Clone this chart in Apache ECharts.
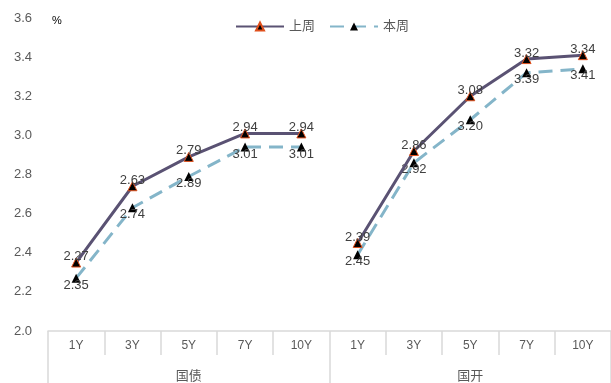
<!DOCTYPE html>
<html>
<head>
<meta charset="utf-8">
<script src="https://cdn.jsdelivr.net/npm/echarts@6/dist/echarts.min.js"></script>
<style>
  html, body { margin: 0; padding: 0; background: #fff; }
  #chart { width: 611px; height: 383px; }
</style>
</head>
<body>
<div id="chart"></div>
<script>
// 期限（两组：国债 / 国开）
const terms = ["1Y", "3Y", "5Y", "7Y", "10Y"];
const groups = ["国债", "国开"];
const yTicks = [2.0, 2.2, 2.4, 2.6, 2.8, 3.0, 3.2, 3.4, 3.6];

// 折线位置
const lastGuozhai = [2.35, 2.74, 2.89, 3.01, 3.01];
const lastGuokai = [2.45, 2.92, 3.2, 3.39, 3.41];
const thisGuozhai = [2.27, 2.63, 2.79, 2.94, 2.94];
const thisGuokai = [2.39, 2.86, 3.08, 3.32, 3.34];

// 数据标签文字（原图标签与点位互换）
const lastLabelsGuozhai = ["2.27", "2.63", "2.79", "2.94", "2.94"];
const lastLabelsGuokai = ["2.39", "2.86", "3.08", "3.32", "3.34"];
const thisLabelsGuozhai = ["2.35", "2.74", "2.89", "3.01", "3.01"];
const thisLabelsGuokai = ["2.45", "2.92", "3.20", "3.39", "3.41"];

const FONT = "Liberation Sans, Arial, Noto Sans CJK SC, sans-serif";
const categories = groups.flatMap(() => terms);
const blanks = terms.map(() => "-");

function makeSeries(name, values, labels, first, style) {
  const data = first ? values.concat(blanks) : blanks.concat(values);
  const texts = first ? labels.concat(blanks) : blanks.concat(labels);
  return {
    name: name,
    type: "line",
    data: data,
    symbol: "triangle",
    symbolSize: 9,
    z: style.z,
    itemStyle: style.itemStyle,
    lineStyle: style.lineStyle,
    label: {
      show: true,
      position: "inside",
      offset: style.labelOffset,
      color: "#404040",
      fontSize: 13,
      fontFamily: FONT,
      formatter: (p) => texts[p.dataIndex],
    },
    emphasis: { disabled: true },
    animation: false,
  };
}

const lastStyle = {
  z: 3,
  itemStyle: { color: "#000", borderColor: "#e0501c", borderWidth: 1 },
  lineStyle: { color: "#5a5273", width: 3, type: "solid" },
  labelOffset: [0, -6],
};
const thisStyle = {
  z: 2,
  itemStyle: { color: "#000", borderColor: "#000", borderWidth: 0 },
  lineStyle: { color: "#84b5c9", width: 3, type: [14, 8] },
  labelOffset: [0, 7],
};

const myChart = echarts.init(document.getElementById("chart"));
const option = {
  backgroundColor: "#fff",
  legend: {
    data: ["上周", "本周"],
    top: 15,
    left: 230,
    itemWidth: 48,
    itemHeight: 10,
    itemGap: 14,
    textStyle: { color: "#595959", fontSize: 13, fontFamily: FONT },
  },
  graphic: [
    {
      type: "text",
      left: 52,
      top: 15,
      style: { text: "%", fill: "#000", fontSize: 11, fontFamily: FONT },
    },
  ],
  grid: { left: 48, top: 18, width: 569, bottom: 52 },
  xAxis: [
    {
      type: "category",
      data: categories,
      position: "bottom",
      axisLine: { show: true, lineStyle: { color: "#d9d9d9", width: 1.5 } },
      axisTick: { show: true, interval: 0, length: 24, lineStyle: { color: "#d9d9d9", width: 1.5 } },
      axisLabel: { interval: 0, margin: 9, color: "#595959", fontSize: 12, fontFamily: FONT },
      splitLine: { show: false },
    },
    {
      type: "category",
      data: groups,
      position: "bottom",
      axisLine: { show: false },
      axisTick: { show: true, interval: 0, length: 60, lineStyle: { color: "#d9d9d9", width: 1.5 } },
      axisLabel: { interval: 0, margin: 39, color: "#595959", fontSize: 13, fontFamily: FONT },
      splitLine: { show: false },
    },
  ],
  yAxis: {
    type: "value",
    min: yTicks[0],
    max: yTicks[yTicks.length - 1],
    interval: 0.2,
    axisLine: { show: false },
    axisTick: { show: false },
    splitLine: { show: false },
    axisLabel: {
      margin: 16,
      color: "#595959",
      fontSize: 13,
      fontFamily: FONT,
      formatter: (v) => v.toFixed(1),
    },
  },
  series: [
    makeSeries("本周", thisGuozhai, thisLabelsGuozhai, true, thisStyle),
    makeSeries("本周", thisGuokai, thisLabelsGuokai, false, thisStyle),
    makeSeries("上周", lastGuozhai, lastLabelsGuozhai, true, lastStyle),
    makeSeries("上周", lastGuokai, lastLabelsGuokai, false, lastStyle),
  ],
};
option && myChart.setOption(option);
</script>
</body>
</html>
